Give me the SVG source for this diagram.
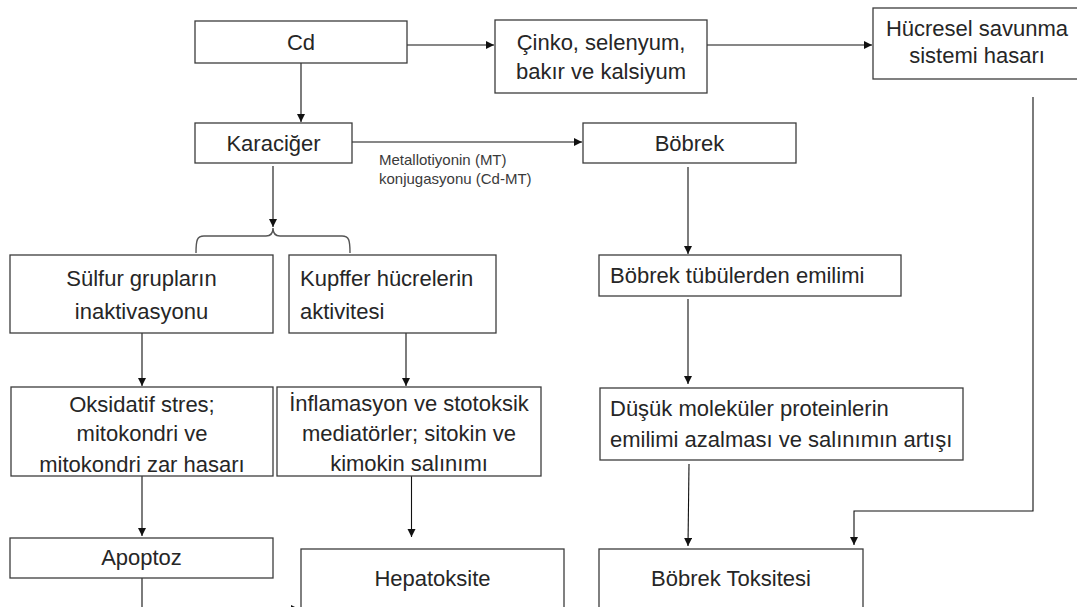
<svg xmlns="http://www.w3.org/2000/svg" width="1077" height="607" viewBox="0 0 1077 607">
<style>
.box{fill:#fff;stroke:#3c3c3c;stroke-width:1.3}
.t{font-family:"Liberation Sans",Arial,sans-serif;font-size:22px;fill:#262626}
.c{text-anchor:middle}
.s{font-family:"Liberation Sans",Arial,sans-serif;font-size:15px;fill:#3a3a3a}
.ln{fill:none;stroke:#111;stroke-width:1.1}
.br{fill:none;stroke:#555;stroke-width:1.4}
.cut{fill:#fff;stroke:#3c3c3c;stroke-width:1.3}
</style>
<defs>
<marker id="ah" markerUnits="userSpaceOnUse" markerWidth="9" markerHeight="9" refX="8" refY="4" orient="auto">
<path d="M0,0 L8,4 L0,8 z" fill="#111"/>
</marker>
</defs>
<rect width="1077" height="607" fill="#fff"/>

<g id="connectors">
<line class="ln" x1="301" y1="63" x2="301" y2="122" marker-end="url(#ah)"/>
<line class="ln" x1="407" y1="45" x2="494" y2="45" marker-end="url(#ah)"/>
<line class="ln" x1="707" y1="45" x2="872" y2="45" marker-end="url(#ah)"/>
<line class="ln" x1="352" y1="142" x2="582" y2="142" marker-end="url(#ah)"/>
<line class="ln" x1="273" y1="166" x2="273" y2="227" marker-end="url(#ah)"/>
<path class="br" d="M196,253 C196,240 197,236 204,236 L266,236 C271,236 273,233 273,228 C273,233 275,236 280,236 L342,236 C349,236 350,240 350,253"/>
<line class="ln" x1="688" y1="167" x2="688" y2="254" marker-end="url(#ah)"/>
<line class="ln" x1="142" y1="333" x2="142" y2="386" marker-end="url(#ah)"/>
<line class="ln" x1="406" y1="333" x2="406" y2="386" marker-end="url(#ah)"/>
<line class="ln" x1="688" y1="299" x2="688" y2="384" marker-end="url(#ah)"/>
<line class="ln" x1="142" y1="476" x2="142" y2="536" marker-end="url(#ah)"/>
<line class="ln" x1="411.5" y1="476" x2="411.5" y2="537" marker-end="url(#ah)"/>
<line class="ln" x1="689" y1="464" x2="688" y2="546" marker-end="url(#ah)"/>
<path class="ln" d="M1033,97 L1033,511 L854,511 L854,545" marker-end="url(#ah)"/>
<path class="ln" d="M142,578 L142,609 L299,609" marker-end="url(#ah)"/>
<text class="s" x="379" y="165">Metallotiyonin (MT)</text>
<text class="s" x="379" y="184">konjugasyonu (Cd-MT)</text>
</g>

<g id="cd">
<rect class="box" x="195" y="21" width="212" height="42"/>
<text class="t c" x="301" y="50">Cd</text>
</g>
<g id="cinko">
<rect class="box" x="495" y="20" width="212" height="73"/>
<text class="t c" x="601" y="50">Çinko, selenyum,</text>
<text class="t c" x="601" y="79">bakır ve kalsiyum</text>
</g>
<g id="hucresel">
<rect class="box" x="873" y="8" width="210" height="71"/>
<text class="t c" x="977" y="35.5">Hücresel savunma</text>
<text class="t c" x="977" y="63">sistemi hasarı</text>
</g>
<g id="karaciger">
<rect class="box" x="195" y="123" width="157" height="40"/>
<text class="t c" x="273.5" y="150.5">Karaciğer</text>
</g>
<g id="bobrek">
<rect class="box" x="583" y="123" width="213" height="40"/>
<text class="t c" x="689.5" y="150.5">Böbrek</text>
</g>
<g id="sulfur">
<rect class="box" x="10" y="255" width="263" height="78"/>
<text class="t c" x="141.5" y="286">Sülfur grupların</text>
<text class="t c" x="141.5" y="318.5">inaktivasyonu</text>
</g>
<g id="kupffer">
<rect class="box" x="289" y="255" width="207" height="78"/>
<text class="t" x="300" y="286">Kupffer hücrelerin</text>
<text class="t" x="300" y="318.5">aktivitesi</text>
</g>
<g id="tubul">
<rect class="box" x="599" y="255" width="302" height="41"/>
<text class="t" x="610" y="282.5">Böbrek tübülerden emilimi</text>
</g>
<g id="oksidatif">
<rect class="box" x="11" y="387" width="262" height="89"/>
<text class="t c" x="142" y="411.5">Oksidatif stres;</text>
<text class="t c" x="142" y="441">mitokondri ve</text>
<text class="t c" x="142" y="471.5">mitokondri zar hasarı</text>
</g>
<g id="inflamasyon">
<rect class="box" x="277" y="387" width="264" height="89"/>
<text class="t c" x="409" y="410.5">İnflamasyon ve stotoksik</text>
<text class="t c" x="409" y="440.5">mediatörler; sitokin ve</text>
<text class="t c" x="409" y="470.5">kimokin salınımı</text>
</g>
<g id="dusuk">
<rect class="box" x="600" y="388" width="363" height="72"/>
<text class="t" x="610" y="415.5">Düşük moleküler proteinlerin</text>
<text class="t" x="610" y="446.5">emilimi azalması ve salınımın artışı</text>
</g>
<g id="apoptoz">
<rect class="box" x="10" y="538" width="263" height="40"/>
<text class="t c" x="141.5" y="565">Apoptoz</text>
</g>
<g id="hepatoksite">
<rect class="box" x="301" y="549" width="263" height="62"/>
<text class="t c" x="432.5" y="586">Hepatoksite</text>
</g>
<g id="bobrek-toksitesi">
<rect class="box" x="599" y="549" width="264" height="62"/>
<text class="t c" x="731" y="585.5">Böbrek Toksitesi</text>
</g>
</svg>
